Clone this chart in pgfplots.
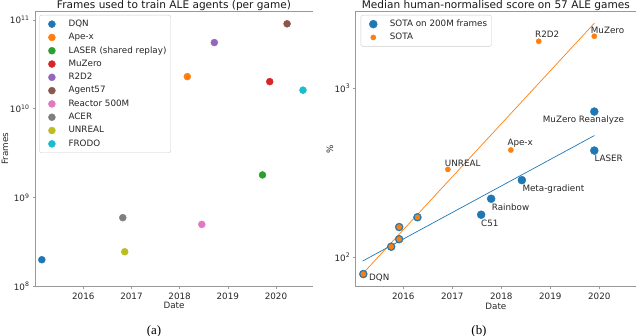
\documentclass[border=0pt]{standalone}
\usepackage{fontspec}
\setmainfont{DejaVu Sans}
\newfontfamily\capfont{Liberation Serif}
\usepackage{pgfplots}
\pgfplotsset{compat=1.18}
\definecolor{c0}{HTML}{1F77B4}
\definecolor{c1}{HTML}{FF7F0E}
\definecolor{c2}{HTML}{2CA02C}
\definecolor{c3}{HTML}{D62728}
\definecolor{c4}{HTML}{9467BD}
\definecolor{c5}{HTML}{8C564B}
\definecolor{c6}{HTML}{E377C2}
\definecolor{c7}{HTML}{7F7F7F}
\definecolor{c8}{HTML}{BCBD22}
\definecolor{c9}{HTML}{17BECF}
\newcommand\pw[1]{10\raisebox{0.42em}{\fontsize{6.2}{6.2}\selectfont #1}}
\newcommand\fs{\fontsize{8.8}{10}\selectfont}
\pgfplotsset{
  every axis title/.style={at={(0.5,1)}, anchor=base, yshift=2.3bp, font=\fontsize{10.6}{12}\selectfont, text=black!90},
  dot/.style={only marks, mark=*,
    legend image code/.code={\path[draw=none,fill=none] (0bp,0bp) -- (24.7bp,0bp); \draw[##1, only marks] plot coordinates {(8.1bp,0bp)};}},
  every axis/.append style={
  scale only axis,
  axis x line=box, axis y line*=left,
  xtick pos=left,
  axis line style={black!40, line width=0.8bp},
  major tick length=2.5bp, tick style={black!40, line width=0.6bp}, tick align=outside,
  ticklabel style={font=\fs, text=black!85},
  label style={font=\fs, text=black!85},
  xtick={2016,2017,2018,2019,2020},
  xticklabels={2016,2017,2018,2019,2020},
  xlabel style={at={(axis description cs:0.5,-0.0696)}, anchor=center},
  clip=false,
  legend cell align=left,
  legend style={draw=black!20, rounded corners=2bp, fill=white, font=\fs, text=black!85,
    anchor=north west, row sep=5.0bp, column sep=0pt, inner xsep=4.3bp, inner ysep=4.8bp,
    nodes={inner sep=0pt, font=\fs, text height=6.5bp, text depth=1.8bp}},
}}
\begin{document}
\begin{tikzpicture}
\useasboundingbox (0,0) rectangle (640bp,336bp);
\begin{axis}[ymode=log, yminorticks=false, xlabel={Date},
  at={(35bp,49.5bp)}, anchor=south west, width=278bp, height=275.5bp,
  xmin=2014.998, xmax=2020.768, ymin=1e8, ymax=1.26e11,
  ytick={1e8,1e9,1e10,1e11}, yticklabels={\pw{8},\pw{9},\pw{10},\pw{11}},
  title={Frames used to train ALE agents (per game)},
  ylabel={Frames},
  ylabel style={at={(axis description cs:-0.108,0.5)}, anchor=center},
  legend style={at={(axis description cs:0.0155,0.9855)}},
]
\addplot[dot, mark size=3.5bp, c0, mark options={fill=c0, draw=c0}] coordinates {(2015.14,2.0e8)};
\addlegendentry{DQN}
\addplot[dot, mark size=3.5bp, c1, mark options={fill=c1, draw=c1}] coordinates {(2018.16,2.3e10)};
\addlegendentry{Ape-x}
\addplot[dot, mark size=3.5bp, c2, mark options={fill=c2, draw=c2}] coordinates {(2019.72,1.8e9)};
\addlegendentry{LASER (shared replay)}
\addplot[dot, mark size=3.5bp, c3, mark options={fill=c3, draw=c3}] coordinates {(2019.87,2.02e10)};
\addlegendentry{MuZero}
\addplot[dot, mark size=3.5bp, c4, mark options={fill=c4, draw=c4}] coordinates {(2018.72,5.56e10)};
\addlegendentry{R2D2}
\addplot[dot, mark size=3.5bp, c5, mark options={fill=c5, draw=c5}] coordinates {(2020.23,9.04e10)};
\addlegendentry{Agent57}
\addplot[dot, mark size=3.5bp, c6, mark options={fill=c6, draw=c6}] coordinates {(2018.46,5.0e8)};
\addlegendentry{Reactor 500M}
\addplot[dot, mark size=3.5bp, c7, mark options={fill=c7, draw=c7}] coordinates {(2016.82,5.95e8)};
\addlegendentry{ACER}
\addplot[dot, mark size=3.5bp, c8, mark options={fill=c8, draw=c8}] coordinates {(2016.86,2.46e8)};
\addlegendentry{UNREAL}
\addplot[dot, mark size=3.5bp, c9, mark options={fill=c9, draw=c9}] coordinates {(2020.56,1.62e10)};
\addlegendentry{FRODO}
\end{axis}

\begin{axis}[ymode=log, yminorticks=false, xlabel={Date},
  at={(355.7bp,49.3bp)}, anchor=south west, width=280.3bp, height=275.7bp,
  xmin=2015.029, xmax=2020.749, ymin=67, ymax=2864,
  ytick={100,1000}, yticklabels={\pw{2},\pw{3}},
  title={Median human-normalised score on 57 ALE games},
  ylabel={\%},
  ylabel style={at={(axis description cs:-0.0917,0.5)}, anchor=center},
  legend style={at={(axis description cs:0.0178,0.9855)}},
]
\addplot[dot, mark size=4bp, c0, mark options={fill=c0, draw=c0}] coordinates {
(2015.184,79.6) (2015.753,115.5) (2015.916,128) (2015.916,151) (2016.289,172.5)
(2017.589,178.6) (2017.793,222) (2018.42,286) (2019.898,428) (2019.898,728)};
\addlegendentry{SOTA on 200M frames}
\addplot[dot, mark size=2.6bp, c1, mark options={fill=c1, draw=c1}] coordinates {
(2015.184,79.6) (2015.753,115.5) (2015.916,128) (2015.916,151) (2016.289,172.5)
(2016.91,331) (2018.195,431) (2018.764,1896) (2019.898,2031)};
\addlegendentry{SOTA}
\addplot[c1, line width=0.7bp, forget plot] coordinates {(2015.18,80.4) (2019.90,2427)};
\addplot[c0, line width=0.7bp, forget plot] coordinates {(2015.17,95) (2019.90,525)};
\begin{scope}[every node/.style={font=\fs, text=black!85, inner sep=0pt, anchor=west}]
\node at (axis cs:2015.30,75.2) {DQN};
\node[anchor=center] at (axis cs:2017.213,359.6) {UNREAL};
\node at (axis cs:2017.586,158.8) {C51};
\node at (axis cs:2017.804,199) {Rainbow};
\node at (axis cs:2018.429,254.7) {Meta-gradient};
\node at (axis cs:2018.123,473) {Ape-x};
\node at (axis cs:2019.898,385) {LASER};
\node at (axis cs:2018.845,649) {MuZero Reanalyze};
\node at (axis cs:2018.688,2087) {R2D2};
\node at (axis cs:2019.825,2213) {MuZero};
\end{scope}
\end{axis}
\node[font=\capfont\fontsize{13}{14}\selectfont] at (154bp,4.5bp) {(a)};
\node[font=\capfont\fontsize{13}{14}\selectfont] at (479bp,4.5bp) {(b)};
\end{tikzpicture}
\end{document}
